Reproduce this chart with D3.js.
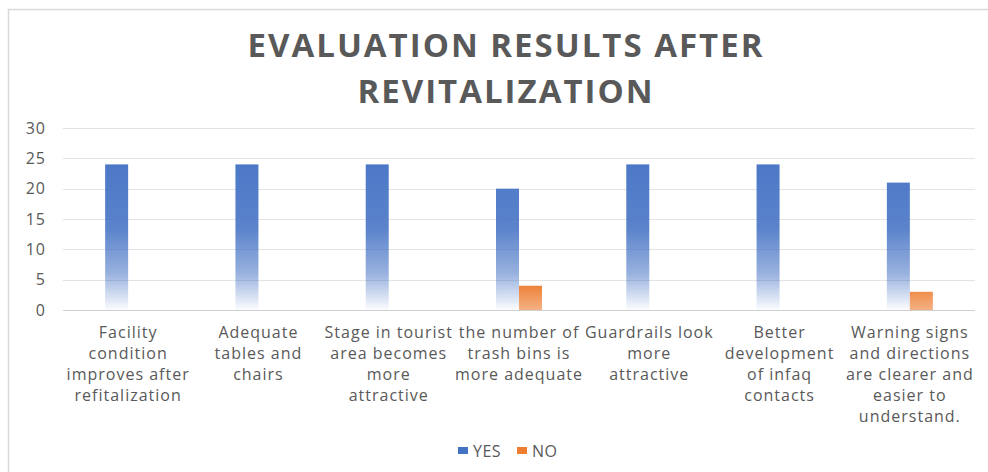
<!DOCTYPE html>
<html><head><meta charset="utf-8">
<script src="https://cdn.jsdelivr.net/npm/d3@7"></script>
<style>body{margin:0;background:#fff}svg{display:block}</style>
</head><body>
<svg id="c" width="988" height="472"></svg>
<script>
const categories = [
  "Facility|condition|improves after|refitalization",
  "Adequate|tables and|chairs",
  "Stage in tourist|area becomes|more|attractive",
  "the number of|trash bins is|more adequate",
  "Guardrails look|more|attractive",
  "Better|development|of infaq|contacts",
  "Warning signs|and directions|are clearer and|easier to|understand."
];
const yesValues = [24, 24, 24, 20, 24, 24, 21];
const noValues  = [0, 0, 0, 4, 0, 0, 3];
const yTicks = [0, 5, 10, 15, 20, 25, 30];
const seriesNames = ["YES", "NO"];
const seriesColors = ["#4472C4", "#ED7D31"];
const titleLines = ["EVALUATION RESULTS AFTER", "REVITALIZATION"];

const svg = d3.select("#c");
const font = "'Open Sans', 'Liberation Sans', sans-serif";
const textColor = "#595959";

// chart border (extends beyond the visible area at right/bottom)
svg.append("rect").attr("x", 8.5).attr("y", 9.5).attr("width", 1000).attr("height", 500)
  .attr("fill", "none").attr("stroke", "#d9d9d9").attr("stroke-width", 1.5);

const m = {left: 63, right: 975, top: 128, bottom: 310};
const x = d3.scaleBand().domain(d3.range(categories.length)).range([m.left, m.right]);
const y = d3.scaleLinear().domain([0, 30]).range([m.bottom, m.top]);
const barW = 23;

// gradients
const defs = svg.append("defs");
seriesColors.forEach((c, i) => {
  const g = defs.append("linearGradient").attr("id", "g" + i)
    .attr("gradientUnits", "userSpaceOnUse")
    .attr("x1", 0).attr("x2", 0).attr("y1", y(30)).attr("y2", y(0));
  if (i === 0) {
    g.append("stop").attr("offset", "0%").attr("stop-color", c);
    g.append("stop").attr("offset", "55%").attr("stop-color", c).attr("stop-opacity", 0.88);
    g.append("stop").attr("offset", "80%").attr("stop-color", c).attr("stop-opacity", 0.55);
    g.append("stop").attr("offset", "100%").attr("stop-color", c).attr("stop-opacity", 0.02);
  } else {
    g.append("stop").attr("offset", "85%").attr("stop-color", c);
    g.append("stop").attr("offset", "100%").attr("stop-color", c).attr("stop-opacity", 0.6);
  }
});

// gridlines
svg.append("g").selectAll("line").data(yTicks).join("line")
  .attr("x1", m.left).attr("x2", m.right)
  .attr("y1", d => Math.round(y(d)) + 0.5).attr("y2", d => Math.round(y(d)) + 0.5)
  .attr("stroke", d => d === 0 ? "#d0d0d0" : "#e3e3e3").attr("stroke-width", 1);

// y axis labels
const yAxis = d3.axisLeft(y).tickValues(yTicks).tickSize(0).tickPadding(0);
const ya = svg.append("g").attr("transform", `translate(46,0)`).call(yAxis);
ya.select(".domain").remove();
ya.selectAll("text").attr("font-family", font).attr("font-size", 16)
  .attr("letter-spacing", 1).attr("fill", textColor);

// bars
const series = [yesValues, noValues];
series.forEach((vals, si) => {
  svg.append("g").selectAll("rect").data(vals).join("rect")
    .attr("x", (d, i) => x(i) + x.bandwidth() / 2 - barW + si * barW)
    .attr("width", barW)
    .attr("y", d => y(d))
    .attr("height", d => y(0) - y(d))
    .attr("fill", `url(#g${si})`);
});

// x category labels
const xl = svg.append("g");
categories.forEach((c, i) => {
  const cx = x(i) + x.bandwidth() / 2;
  const t = xl.append("text")
    .attr("x", cx).attr("y", 338)
    .attr("text-anchor", "middle").attr("font-family", font)
    .attr("font-size", 16).attr("letter-spacing", 1).attr("fill", textColor);
  c.split("|").forEach((ln, k) => {
    t.append("tspan").attr("x", cx).attr("dy", k === 0 ? 0 : 21).text(ln);
  });
});

// title
svg.append("g").selectAll("text").data(titleLines).join("text")
  .attr("x", 506).attr("y", (d, i) => 57 + i * 46)
  .attr("text-anchor", "middle").attr("font-family", font)
  .attr("font-weight", "bold").attr("font-size", 33).attr("fill", textColor)
  .attr("letter-spacing", 2)
  .text(d => d);

// legend
const leg = svg.append("g");
const legX = [458, 517];
seriesNames.forEach((n, i) => {
  leg.append("rect").attr("x", legX[i]).attr("y", 447).attr("width", 10).attr("height", 7)
    .attr("fill", seriesColors[i]);
  leg.append("text").attr("x", legX[i] + 15).attr("y", 457)
    .attr("font-family", font).attr("font-size", 16).attr("letter-spacing", 0.5)
    .attr("fill", textColor).text(n);
});
</script>
</body></html>
